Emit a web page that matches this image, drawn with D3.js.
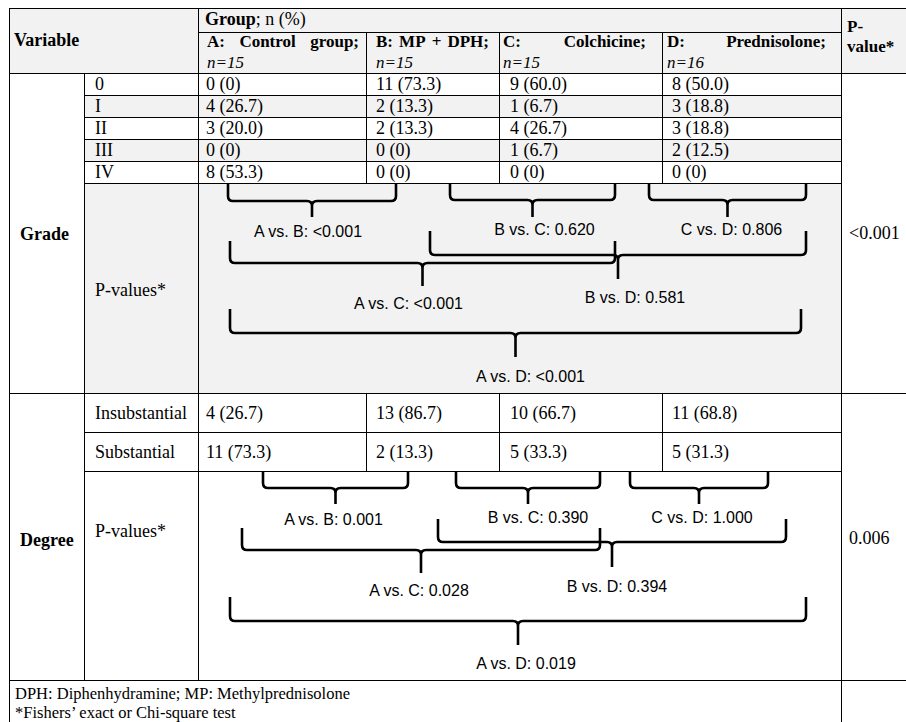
<!DOCTYPE html>
<html>
<head>
<meta charset="utf-8">
<script src="https://cdn.jsdelivr.net/npm/d3@7"></script>
<style>
  body { margin: 0; background: #fff; }
  svg { display: block; }
</style>
</head>
<body>
<svg width="906" height="722"></svg>
<script>
var groupCodes = ["A", "B", "C", "D"]
var groupNames = ["A: Control group;", "B: MP + DPH;", "C: Colchicine;", "D: Prednisolone;"]
var groupN = [15, 15, 15, 16]

var gradeLevels = ["0", "I", "II", "III", "IV"]
var gradeCounts = [[0, 4, 3, 0, 8], [11, 2, 2, 0, 0], [9, 1, 4, 1, 0], [8, 3, 3, 2, 0]]
var gradePct = [[0, 26.7, 20.0, 0, 53.3], [73.3, 13.3, 13.3, 0, 0], [60.0, 6.7, 26.7, 6.7, 0], [50.0, 18.8, 18.8, 12.5, 0]]

var degreeLevels = ["Insubstantial", "Substantial"]
var degreeCounts = [[4, 11], [13, 2], [10, 5], [11, 5]]
var degreePct = [[26.7, 73.3], [86.7, 13.3], [66.7, 33.3], [68.8, 31.3]]

var pairs = [["A", "B"], ["B", "C"], ["C", "D"], ["A", "C"], ["B", "D"], ["A", "D"]]
var gradePairP = ["<0.001", "0.620", "0.806", "<0.001", "0.581", "<0.001"]
var degreePairP = ["0.001", "0.390", "1.000", "0.028", "0.394", "0.019"]
var overallP = ["<0.001", "0.006"]

var footnotes = ["DPH: Diphenhydramine; MP: Methylprednisolone", "*Fishers\u2019 exact or Chi-square test"]

// layout of the table
var colX = [9, 84, 198, 366, 499, 662, 841, 906]
var gray = "#f2f2f2"
var serif = "'Liberation Serif', 'Times New Roman', serif"
var sans = "'Liberation Sans', Arial, sans-serif"
var fs = 18

var svg = d3.select("svg")
var gFill = svg.append("g")
var gText = svg.append("g")
var gLine = svg.append("g")
var gBrace = svg.append("g")

var xGroup = d3.scaleOrdinal().domain(groupCodes).range(colX.slice(2, 6))
var wGroup = d3.scaleOrdinal().domain(groupCodes).range([168, 133, 163, 179])
var padL = d3.scaleOrdinal().domain(groupCodes).range([9, 10, 4, 5])
var padR = d3.scaleOrdinal().domain(groupCodes).range([7, 10, 16, 15])
var padCell = d3.scaleOrdinal().domain(groupCodes).range([8, 10, 11, 10])
var yGrade = d3.scaleBand().domain(gradeLevels).range([73, 183])
var yDegree = d3.scaleBand().domain(degreeLevels).range([393, 471])

function fmt(n, p) { return n + " (" + (p === 0 ? "0" : p.toFixed(1)) + ")" }

// backgrounds
gFill.append("rect").attr("x", 9).attr("y", 8).attr("width", 897).attr("height", 65).attr("fill", gray)
gradeLevels.forEach(function (lv, i) {
  if (i % 2 == 1) {
    gFill.append("rect").attr("x", colX[1]).attr("y", yGrade(lv))
      .attr("width", colX[6] - colX[1]).attr("height", yGrade.bandwidth()).attr("fill", gray)
  }
})
gFill.append("rect").attr("x", colX[1]).attr("y", 183).attr("width", colX[6] - colX[1]).attr("height", 210).attr("fill", gray)

// lines
function hl(x1, x2, y) { gLine.append("line").attr("x1", x1).attr("x2", x2).attr("y1", y).attr("y2", y) }
function vl(x, y1, y2) { gLine.append("line").attr("x1", x).attr("x2", x).attr("y1", y1).attr("y2", y2) }
hl(9, 906, 8.5)
hl(198, 841, 32.5)
hl(9, 906, 73.5)
gradeLevels.forEach(function (lv) { hl(84, 841, Math.round(yGrade(lv) + yGrade.bandwidth()) + 0.5) })
hl(9, 906, 393.5)
degreeLevels.forEach(function (lv) { hl(84, 841, Math.round(yDegree(lv) + yDegree.bandwidth()) + 0.5) })
hl(9, 906, 680.5)
vl(9.5, 8, 722)
vl(84.5, 73, 680)
vl(198.5, 8, 680)
;[3, 4, 5].forEach(function (c) { vl(colX[c] + 0.5, 32, 183); vl(colX[c] + 0.5, 393, 471) })
vl(841.5, 8, 722)
gLine.selectAll("line").attr("stroke", "#000").attr("stroke-width", 1)

// text helper
function txt(x, y, s, opts) {
  opts = opts || {}
  return gText.append("text").attr("x", x).attr("y", y).text(s)
    .attr("font-family", opts.sans ? sans : serif)
    .attr("font-size", opts.size || fs)
    .attr("font-weight", opts.bold ? "bold" : null)
    .attr("font-style", opts.italic ? "italic" : null)
    .attr("text-anchor", opts.anchor || "start")
    .attr("fill", "#000")
}

// header
txt(14, 46, "Variable", { bold: true })
var gt = txt(205, 25, "Group", { bold: true })
gt.append("tspan").attr("font-weight", "normal").text("; n (%)")
txt(847, 32, "P-", { bold: true, size: 17 })
txt(847, 52, "value*", { bold: true, size: 17 })

// justified group names
groupCodes.forEach(function (g, i) {
  var words = groupNames[i].split(" ")
  var left = xGroup(g) + padL(g), right = xGroup(g) + wGroup(g) - padR(g)
  var nodes = words.map(function (w) { return txt(0, 47, w, { bold: true, size: 17 }) })
  var widths = nodes.map(function (n) { return n.node().getComputedTextLength() })
  var gap = (right - left - d3.sum(widths)) / (words.length - 1)
  var x = left
  nodes.forEach(function (n, k) { n.attr("x", x); x += widths[k] + gap })
  txt(xGroup(g) + padL(g), 68, "n=" + groupN[i], { italic: true, size: 17 })
})

// grade rows
txt(20, 240, "Grade", { bold: true })
gradeLevels.forEach(function (lv, j) {
  var y = yGrade(lv) + yGrade.bandwidth() / 2 + 6
  txt(95, y, lv)
  groupCodes.forEach(function (g, i) { txt(xGroup(g) + padCell(g), y, fmt(gradeCounts[i][j], gradePct[i][j])) })
})
txt(95, 296, "P-values*")
txt(849, 239, overallP[0])

// degree rows
txt(20, 546, "Degree", { bold: true })
degreeLevels.forEach(function (lv, j) {
  var y = yDegree(lv) + yDegree.bandwidth() / 2 + 6
  txt(95, y, lv)
  groupCodes.forEach(function (g, i) { txt(xGroup(g) + padCell(g), y, fmt(degreeCounts[i][j], degreePct[i][j])) })
})
txt(95, 537, "P-values*")
txt(849, 544, overallP[1])

// footnotes
txt(15, 699, footnotes[0], { size: 16.5 })
txt(15, 718, footnotes[1], { size: 16.5 })

// brace placement for each pair (ends, levels, label nudge)
var gradeBraceLayout = [
  { l: 228, r: 396, top: 184, h: 201, bot: 217, ly: 231, dx: -4 },
  { l: 450, r: 615, top: 184, h: 200, bot: 217, ly: 229, dx: 12 },
  { l: 649, r: 806, top: 184, h: 200, bot: 217, ly: 229, dx: 4 },
  { l: 230, r: 615, top: 241, h: 263, bot: 286, ly: 303, dx: -14 },
  { l: 430, r: 806, top: 231, h: 255, bot: 279, ly: 297, dx: 17 },
  { l: 230, r: 801, top: 309, h: 333, bot: 357, ly: 376, dx: 15 }
]
var degreeBraceLayout = [
  { l: 263, r: 408, top: 472, h: 488, bot: 504, ly: 519, dx: -2 },
  { l: 456, r: 600, top: 472, h: 488, bot: 504, ly: 517, dx: 10 },
  { l: 630, r: 768, top: 472, h: 488, bot: 504, ly: 517, dx: 3 },
  { l: 242, r: 600, top: 528, h: 550, bot: 573, ly: 590, dx: -2 },
  { l: 438, r: 786, top: 519, h: 542, bot: 567, ly: 586, dx: 5 },
  { l: 230, r: 806, top: 597, h: 621, bot: 645, ly: 663, dx: 8 }
]

function brace(b) {
  var c = (b.l + b.r) / 2, k = 5
  var p = d3.path()
  p.moveTo(b.l, b.top); p.lineTo(b.l, b.h - k); p.quadraticCurveTo(b.l, b.h, b.l + k, b.h)
  p.lineTo(c - k, b.h); p.quadraticCurveTo(c, b.h, c, b.h + k); p.lineTo(c, b.bot)
  p.moveTo(c, b.h + k); p.quadraticCurveTo(c, b.h, c + k, b.h)
  p.lineTo(b.r - k, b.h); p.quadraticCurveTo(b.r, b.h, b.r, b.h - k); p.lineTo(b.r, b.top)
  return p.toString()
}

function drawBraces(layout, pvals) {
  var g = gBrace.append("g")
  g.selectAll("path").data(layout).join("path")
    .attr("d", brace)
    .attr("fill", "none").attr("stroke", "#000").attr("stroke-width", 2.6)
  g.selectAll("text").data(layout).join("text")
    .attr("x", function (b) { return (b.l + b.r) / 2 + b.dx })
    .attr("y", function (b) { return b.ly })
    .attr("dy", "0.36em")
    .attr("text-anchor", "middle")
    .attr("font-family", sans).attr("font-size", 16)
    .text(function (b, i) { return pairs[i][0] + " vs. " + pairs[i][1] + ": " + pvals[i] })
}
drawBraces(gradeBraceLayout, gradePairP)
drawBraces(degreeBraceLayout, degreePairP)
</script>
</body>
</html>
